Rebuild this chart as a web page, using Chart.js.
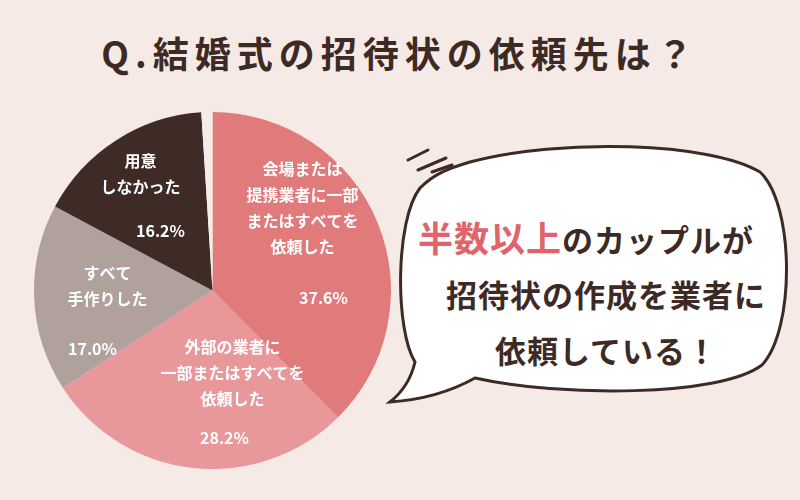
<!DOCTYPE html>
<html><head><meta charset="utf-8">
<script src="https://cdn.jsdelivr.net/npm/chart.js@4"></script>
<style>
body{margin:0;width:800px;height:500px;background:#f6eae7;overflow:hidden;font-family:"Noto Sans CJK JP";position:relative}
#title{position:absolute;top:26px;left:0;width:800px;text-align:center;font-size:36px;font-weight:bold;color:#3d2a25;letter-spacing:6px}
#wrap{position:absolute;left:34px;top:112px;width:357px;height:357px}
svg{position:absolute;left:0;top:0}
.t{position:absolute;font-weight:bold;color:#3d2a25;font-size:31px;white-space:nowrap;letter-spacing:1px}
</style></head><body>
<div id="title">Q.結婚式の招待状の依頼先は？</div>
<svg width="800" height="500">
<path d="M470 162 C560 138 710 142 760 172 C795 205 795 330 762 365 C720 397 560 397 475 378 C450 392 420 400 390 402 C405 390 412 375 415 362 C395 330 395 220 420 188 C435 173 450 168 470 162 Z" fill="#fff" stroke="#3d2a25" stroke-width="3"/>
<path d="M408 160 L428 150 M418 170 L446 158 M432 172 L452 165" stroke="#3d2a25" stroke-width="3" stroke-linecap="round" fill="none"/>
</svg>
<div class="t" style="left:418px;top:211px"><span style="color:#e0646a;font-size:35px">半数以上</span>のカップルが</div>
<div class="t" style="left:446px;top:271px">招待状の作成を業者に</div>
<div class="t" style="left:495px;top:327px">依頼している！</div>
<div id="wrap"><canvas id="c"></canvas></div>
<script>
const categories=["会場または提携業者に一部またはすべてを依頼した","外部の業者に一部またはすべてを依頼した","すべて手作りした","用意しなかった","その他"];
const values=[37.6,28.2,17.0,16.2,1.0];
const colors=["#e07a7b","#e8979a","#b0a19c","#3f2b26","#f4ece9"];
const labelLines=[["会場または","提携業者に一部","またはすべてを","依頼した"],["外部の業者に","一部またはすべてを","依頼した"],["すべて","手作りした"],["用意","しなかった"],[]];
const pctLabels=["37.6%","28.2%","17.0%","16.2%",""];
// label layout offsets (relative to pie center)
const lblPos=[[90,-122],[20,56],[-105,-18],[-72,-130],[0,0]];
const pctPos=[[111,7],[12,147],[-120,58],[-52,-60],[0,0]];
const plug={id:'lbl',afterDraw(ch){const a=ch.getDatasetMeta(0).data[0];const cx=a.x,cy=a.y,g=ch.ctx;g.save();g.fillStyle='#fff';g.font='bold 16px "Noto Sans CJK JP"';g.textAlign='center';g.textBaseline='middle';
labelLines.forEach((ls,i)=>{ls.forEach((l,j)=>g.fillText(l,cx+lblPos[i][0],cy+lblPos[i][1]+j*26));g.fillText(pctLabels[i],cx+pctPos[i][0],cy+pctPos[i][1]);});g.restore();}};
new Chart(document.getElementById('c'),{type:'pie',data:{labels:categories,datasets:[{data:values,backgroundColor:colors,borderWidth:0}]},
options:{responsive:true,maintainAspectRatio:false,animation:false,layout:{padding:0},plugins:{legend:{display:false},tooltip:{enabled:false}}},plugins:[plug]});
</script></body></html>
